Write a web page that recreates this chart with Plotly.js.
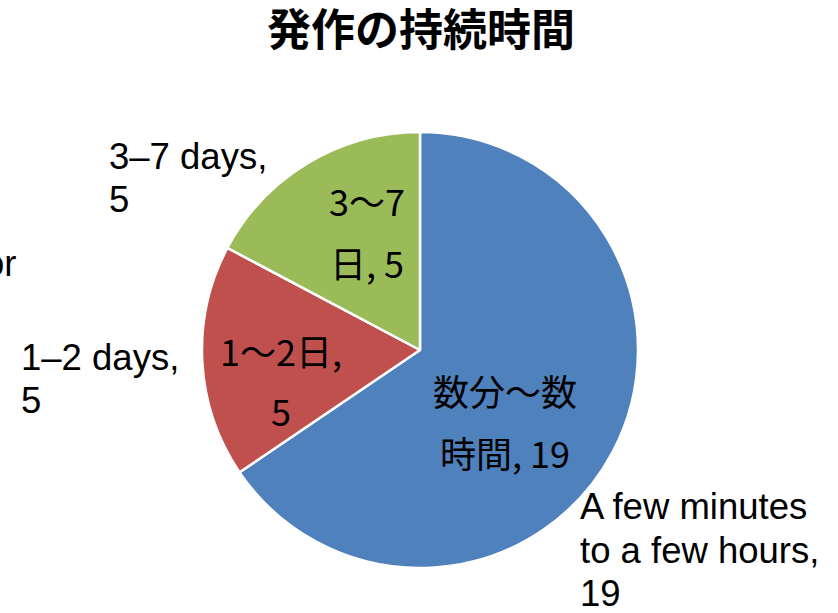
<!DOCTYPE html>
<html>
<head>
<meta charset="utf-8">
<script src="https://cdn.plot.ly/plotly-3.0.1.min.js"></script>
<style>html,body{margin:0;padding:0;background:#fff;}#chart{width:838px;height:613px;}</style>
</head>
<body>
<div id="chart"></div>
<script>
// ---- data ----
const chartTitle = '発作の持続時間';
const categoriesJp = ['数分～数\n時間', '1～2日', '3～7\n日'];
const jpSeparators = [', ', ',\n', ', '];
const categoriesEn = ['A few minutes\nto a few hours', '1–2 days', '3–7 days'];
const values = [19, 5, 5];
const colors = ['#4F81BD', '#C0504D', '#9BBB59'];
const clippedLeftLabel = 'or';

// ---- layout helpers ----
const W = 838, H = 613;
const px = x => x / W;
const py = y => 1 - y / H;

const cx = 420, cy = 350, r = 218;

const jpFont = {family: '"Noto Sans CJK JP", "Noto Sans", sans-serif', size: 36, color: '#000'};
const enFont = {family: '"Liberation Sans", Arial, sans-serif', size: 36.5, color: '#000'};

const jpPos = [
  {x: 505, y: 390, gap: 62},
  {x: 281, y: 350, gap: 60},
  {x: 367, y: 200, gap: 62}
];
// English outside labels: left x, first line y, line gap
const enPos = [
  {x: 578, y: 507, gap: 43},
  {x: 19, y: 357, gap: 43},
  {x: 107, y: 157, gap: 42}
];

const annotations = [];
values.forEach((v, i) => {
  const jpLines = (categoriesJp[i] + jpSeparators[i] + v).split('\n').map(s => s.trim());
  jpLines.forEach((line, k) => {
    annotations.push({
      xref: 'paper', yref: 'paper', x: px(jpPos[i].x), y: py(jpPos[i].y + k * jpPos[i].gap),
      xanchor: 'center', yanchor: 'middle', showarrow: false, text: line, font: jpFont
    });
  });
  const enLines = (categoriesEn[i] + ',\n' + v).split('\n');
  enLines.forEach((line, k) => {
    annotations.push({
      xref: 'paper', yref: 'paper', x: px(enPos[i].x), y: py(enPos[i].y + k * enPos[i].gap),
      xanchor: 'left', yanchor: 'middle', align: 'left', showarrow: false, text: line, font: enFont
    });
  });
});
annotations.push({
  xref: 'paper', yref: 'paper', x: px(18), y: py(263),
  xanchor: 'right', yanchor: 'middle', showarrow: false, text: clippedLeftLabel, font: enFont
});

const trace = {
  type: 'pie',
  labels: categoriesJp.map(s => s.replace('\n', '')),
  values: values,
  sort: false,
  direction: 'clockwise',
  rotation: 0,
  textinfo: 'none',
  hoverinfo: 'label+value',
  marker: {colors: colors, line: {color: '#FFFFFF', width: 2.5}},
  domain: {x: [px(cx - r), px(cx + r)], y: [py(cy + r), py(cy - r)]},
  showlegend: false
};

const layout = {
  width: W, height: H,
  margin: {l: 0, r: 0, t: 0, b: 0},
  paper_bgcolor: '#FFFFFF',
  title: {
    text: '<b>' + chartTitle + '</b>',
    font: {family: '"Noto Sans CJK JP", sans-serif', size: 44, color: '#000'},
    x: px(421), xanchor: 'center', y: py(31), yanchor: 'middle'
  },
  annotations: annotations,
  showlegend: false
};

Plotly.newPlot('chart', [trace], layout, {displayModeBar: false, staticPlot: true});
</script>
</body>
</html>
